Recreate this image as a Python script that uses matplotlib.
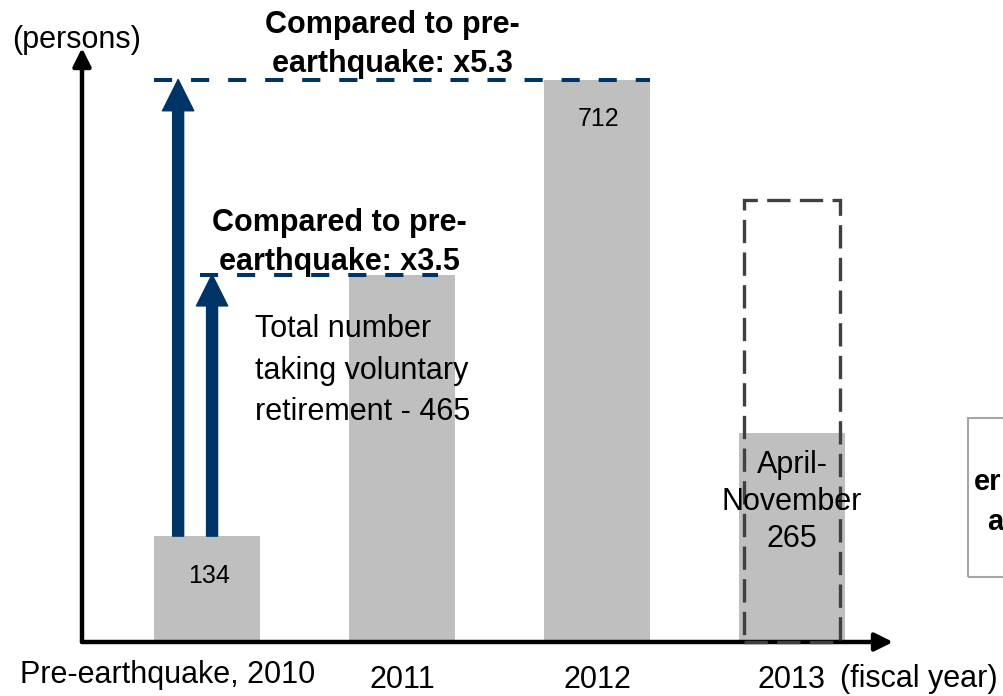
import matplotlib.pyplot as plt
from matplotlib.patches import Rectangle

plt.rcParams['font.family'] = ['Liberation Sans', 'DejaVu Sans']

# --- data ---
years = ['Pre-earthquake, 2010', '2011', '2012', '2013']
retirements = [134, 465, 712, 265]
value_labels = ['134', '', '712', '']
estimate_2013 = 560          # dashed outline for the full fiscal year 2013
ratio_labels = ['Compared to pre-\nearthquake: x3.5',
                'Compared to pre-\nearthquake: x5.3']

navy = '#003366'
grey = '#BFBFBF'

W, H = 1004, 696
fig = plt.figure(figsize=(W / 100, H / 100), dpi=100)


def fx(px):
    return px / W


def fy(py):
    return 1 - py / H


# axes placed so that bars land where they sit in the original slide
ax = fig.add_axes([fx(82), fy(642), (893 - 82) / W, (642 - 48) / H])
ax.set_xlim((82 - 207) / 195, (893 - 207) / 195)
ax.set_ylim(0, (642 - 48) / 0.79)
ax.axis('off')

xpos = list(range(len(years)))
bar_w = 0.545

# axis arrows
arrow_kw = dict(arrowstyle='-|>', color='black', lw=3.2, mutation_scale=27,
                shrinkA=0, shrinkB=0)
ax.annotate('', xy=(0, 1), xytext=(0, 0), xycoords='axes fraction',
            textcoords='axes fraction', arrowprops=arrow_kw)
ax.annotate('', xy=(1, 0), xytext=(0, 0), xycoords='axes fraction',
            textcoords='axes fraction', arrowprops=arrow_kw)

# bars
ax.bar(xpos, retirements, width=bar_w, color=grey, zorder=1)

# dashed outline for 2013
ax.add_patch(Rectangle((xpos[3] - 0.245, 0), 0.49, estimate_2013, fill=False,
                       edgecolor='#404040', lw=2.4, linestyle=(0, (7, 2.8)),
                       zorder=3, clip_on=False))

# reference dashed lines at 2011 and 2012 levels
ax.plot([-0.036, 1.185], [retirements[1]] * 2, color=navy, lw=2.9,
        linestyle=(0, (4.5, 4.7)), zorder=2, clip_on=False)
ax.plot([xpos[0] - bar_w / 2, xpos[2] + bar_w / 2], [retirements[2]] * 2,
        color=navy, lw=2.9, linestyle=(0, (4.5, 4.7)), zorder=2, clip_on=False)

# growth arrows from the pre-earthquake bar
for x_a, top in [(-0.148, retirements[2]), (0.026, retirements[1])]:
    ax.annotate('', xy=(x_a, top), xytext=(x_a, retirements[0]),
                arrowprops=dict(width=7.9, headwidth=22.5, headlength=22.5,
                                color=navy, shrink=0), zorder=2)

# value labels inside bars
for x, v, lab in zip(xpos, retirements, value_labels):
    if lab:
        ax.text(x + 0.01, v - 59, lab, ha='center', va='baseline', fontsize=18,
                zorder=5)

# category labels
ax.text(xpos[0] - 0.2, -52, years[0], ha='center', va='baseline', fontsize=22)
for x, lab in zip(xpos[1:], years[1:]):
    ax.text(x, -58, lab, ha='center', va='baseline', fontsize=22)

fig.text(fx(840), fy(687), '(fiscal year)', ha='left', va='baseline',
         fontsize=22)
fig.text(fx(77), fy(48), '(persons)', ha='center', va='baseline', fontsize=22)

# annotations
fig.text(fx(339), fy(270), ratio_labels[0], ha='center', va='baseline',
         fontsize=22, fontweight='bold', linespacing=1.4, zorder=6)
fig.text(fx(392), fy(72), ratio_labels[1], ha='center', va='baseline',
         fontsize=22, fontweight='bold', linespacing=1.4, zorder=6)
fig.text(fx(255), fy(420), 'Total number\ntaking voluntary\nretirement - 465',
         ha='left', va='baseline', fontsize=22, linespacing=1.5, zorder=6)
ax.text(xpos[3], (642 - 547) / 0.79, 'April-\nNovember\n265', ha='center',
        va='baseline', fontsize=22, linespacing=1.3, zorder=6)

# box on the right edge, mostly cut off by the slide border
fig.add_artist(Rectangle((fx(968), fy(577)), 0.2, 159 / H,
                         transform=fig.transFigure, fill=False,
                         edgecolor='#A6A6A6', lw=1.5))
fig.text(fx(974), fy(490), 'er', ha='left', va='baseline', fontsize=21,
         fontweight='bold')
fig.text(fx(987), fy(530), 'a', ha='left', va='baseline', fontsize=21,
         fontweight='bold')

fig.savefig('out.png', dpi=100)
